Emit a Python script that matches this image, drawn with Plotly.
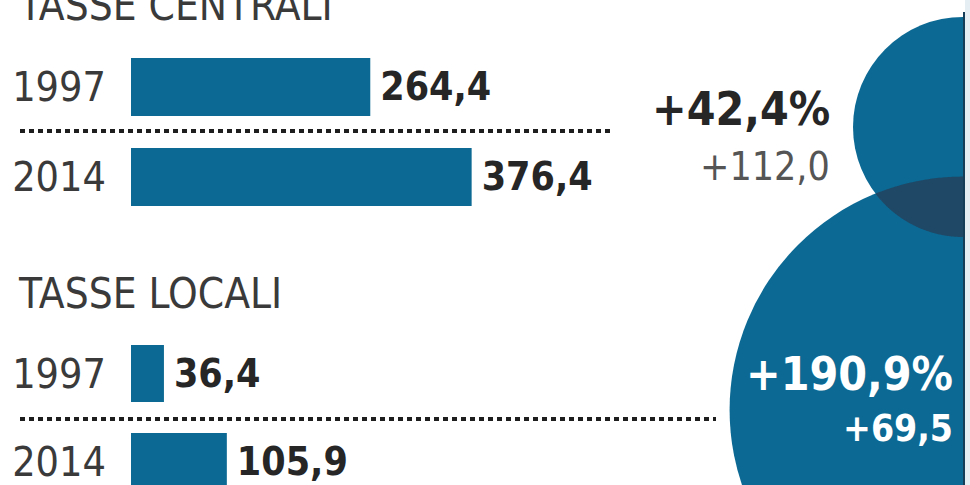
import numpy as np
import plotly.graph_objects as go

W, H = 970, 485

# ---- data ----
years = ["1997", "2014"]
central_values = [264.4, 376.4]
local_values = [36.4, 105.9]
group_titles = ["TASSE CENTRALI", "TASSE LOCALI"]
pct_change = [42.4, 190.9]
abs_change = [112.0, 69.5]

BLUE = "#0c6993"
DARK = "#1f4866"
FONT = "Noto Sans Condensed, DejaVu Sans Condensed, sans-serif"


def it(v):
    return f"{v:.1f}".replace(".", ",")


def px(x):
    return x / W


def py(y):
    return 1 - y / H


valfont = dict(family=FONT, size=39, color="#262626", weight="bold")

fig = go.Figure()
for vals, yax, wd in ((central_values, "y", 0.645), (local_values, "y2", 0.648)):
    fig.add_trace(go.Bar(x=vals, y=years, orientation="h", width=wd,
                         marker=dict(color=BLUE, line=dict(width=0)),
                         texttemplate="\u2009%{x:.1f}", textposition="outside",
                         outsidetextfont=valfont, textfont=valfont,
                         constraintext="none", cliponaxis=False,
                         xaxis="x", yaxis=yax, hoverinfo="skip"))

ann = []
# group titles
for txt, yc in ((group_titles[0], 6), (group_titles[1], 293)):
    ann.append(dict(x=px(16), y=py(yc), xref="paper", yref="paper", text=txt,
                    showarrow=False, xanchor="left", yanchor="middle",
                    font=dict(family=FONT, size=42, color="#3a3a3a")))

# change annotations
ann.append(dict(x=px(832), y=py(109), xref="paper", yref="paper", text="+" + it(pct_change[0]) + "%",
                showarrow=False, xanchor="right", yanchor="middle",
                font=dict(family=FONT, size=46, color="#262626", weight="bold")))
ann.append(dict(x=px(832), y=py(166), xref="paper", yref="paper", text="+" + it(abs_change[0]),
                showarrow=False, xanchor="right", yanchor="middle",
                font=dict(family=FONT, size=39, color="#555555")))
ann.append(dict(x=px(955), y=py(374), xref="paper", yref="paper", text="+" + it(pct_change[1]) + "%",
                showarrow=False, xanchor="right", yanchor="middle",
                font=dict(family=FONT, size=46, color="#ffffff", weight="bold")))
ann.append(dict(x=px(955), y=py(428), xref="paper", yref="paper", text="+" + it(abs_change[1]),
                showarrow=False, xanchor="right", yanchor="middle",
                font=dict(family=FONT, size=37, color="#ffffff", weight="bold")))

# bubbles: area proportional to % change
r_top = 110.0
r_bot = r_top * np.sqrt(pct_change[1] / pct_change[0])
c_top = (963.0, 127.0)
c_bot = (963.0, 410.0)

shapes = []
for (cx, cy), r in ((c_top, r_top), (c_bot, r_bot)):
    shapes.append(dict(type="circle", xref="paper", yref="paper",
                       x0=px(cx - r), x1=px(cx + r), y0=py(cy + r), y1=py(cy - r),
                       fillcolor=BLUE, line=dict(width=0), layer="below"))

# lens (overlap of the two bubbles)
t = np.linspace(0, 2 * np.pi, 720, endpoint=False)
p1 = np.c_[c_top[0] + r_top * np.cos(t), c_top[1] + r_top * np.sin(t)]
p2 = np.c_[c_bot[0] + r_bot * np.cos(t), c_bot[1] + r_bot * np.sin(t)]
in1 = p1[np.hypot(p1[:, 0] - c_bot[0], p1[:, 1] - c_bot[1]) <= r_bot]
in2 = p2[np.hypot(p2[:, 0] - c_top[0], p2[:, 1] - c_top[1]) <= r_top]
pts = np.vstack([in1, in2])
cen = pts.mean(axis=0)
ang = np.arctan2(pts[:, 1] - cen[1], pts[:, 0] - cen[0])
pts = pts[np.argsort(ang)]
path = "M " + " L ".join(f"{px(x):.5f},{py(y):.5f}" for x, y in pts) + " Z"
shapes.append(dict(type="path", xref="paper", yref="paper", path=path,
                   fillcolor=DARK, line=dict(width=0), layer="below"))

# right edge strip
shapes.append(dict(type="rect", xref="paper", yref="paper", x0=px(965), x1=1, y0=0, y1=1,
                   fillcolor="#e4eef3", line=dict(width=0), layer="below"))
shapes.append(dict(type="line", xref="paper", yref="paper", x0=px(964), x1=px(964), y0=0, y1=py(12),
                   line=dict(color="#173e58", width=2), layer="below"))

# dotted separators
for y, x1 in ((131, 612), (419, 716)):
    shapes.append(dict(type="line", xref="paper", yref="paper", x0=px(20), x1=px(x1),
                       y0=py(y), y1=py(y), line=dict(color="#1e1e1e", width=4, dash="5px,4px"),
                       layer="above"))

x_left = 131
scale = 0.905
tickfont = dict(family=FONT, size=41, color="#3a3a3a")

fig.update_layout(
    width=W, height=H, margin=dict(l=0, r=0, t=0, b=0),
    paper_bgcolor="white", plot_bgcolor="rgba(0,0,0,0)",
    showlegend=False, separators=",.",
    xaxis=dict(domain=[px(x_left), 1], range=[0, (W - x_left) / scale], visible=False, fixedrange=True),
    yaxis=dict(domain=[py(222), py(42)], range=[1.5, -0.5], type="category",
               categoryorder="array", categoryarray=years, anchor="x", fixedrange=True,
               showgrid=False, zeroline=False, showline=False, ticks="",
               ticklabelstandoff=24, tickfont=tickfont),
    yaxis2=dict(domain=[0, py(329.5)], range=[(H - 373.5) / 88, -0.5], type="category",
                categoryorder="array", categoryarray=years, anchor="x", fixedrange=True,
                showgrid=False, zeroline=False, showline=False, ticks="",
                ticklabelstandoff=24, tickfont=tickfont),
    annotations=ann, shapes=shapes,
)

fig.write_html("out.html", config={"displayModeBar": False},
               post_script="document.body.style.margin='0px';")
